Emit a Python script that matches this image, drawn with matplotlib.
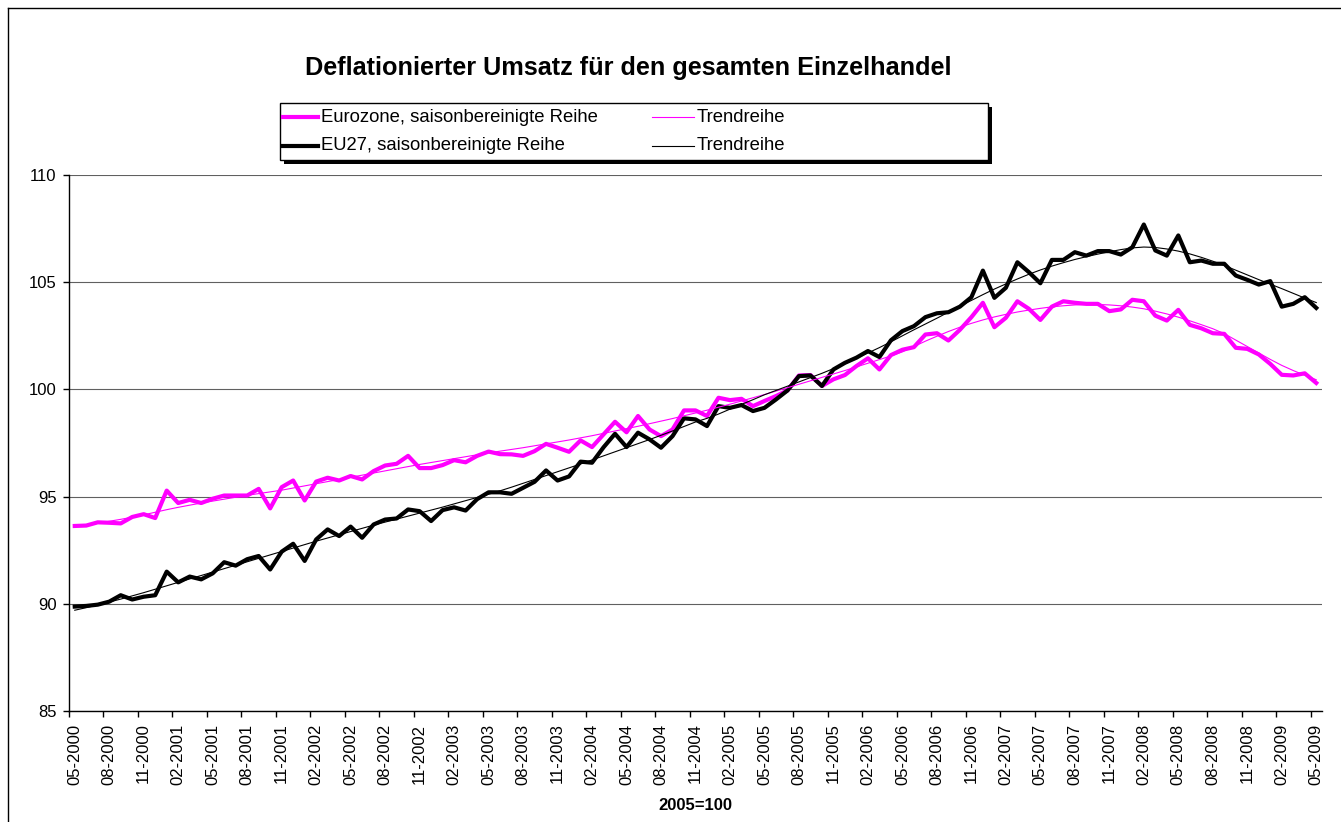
import numpy as np
import pandas as pd
import matplotlib
matplotlib.use('Agg')
import matplotlib.pyplot as plt
from matplotlib.lines import Line2D
from matplotlib.patches import Rectangle

plt.rcParams['font.family'] = ['Liberation Sans', 'DejaVu Sans']

# Months 05-2000 .. 05-2009
months = pd.period_range('2000-05', '2009-05', freq='M')
month_labels = [p.strftime('%m-%Y') for p in months]

# Eurozone, saisonbereinigte Reihe
ez_sa = [93.63, 93.65, 93.80, 93.78, 93.75, 94.05, 94.18, 94.00, 95.28, 94.70,
         94.85, 94.70, 94.90, 95.05, 95.05, 95.05, 95.36, 94.45, 95.44, 95.75,
         94.82, 95.70, 95.88, 95.75, 95.96, 95.80, 96.19, 96.45, 96.53, 96.90,
         96.33, 96.33, 96.47, 96.70, 96.60, 96.90, 97.10, 96.98, 96.97, 96.90,
         97.12, 97.46, 97.28, 97.09, 97.62, 97.31, 97.90, 98.49, 98.00, 98.76,
         98.13, 97.82, 98.13, 99.02, 99.02, 98.76, 99.61, 99.50, 99.56, 99.22,
         99.46, 99.69, 99.95, 100.65, 100.67, 100.16, 100.47, 100.67, 101.09, 101.45,
         100.93, 101.60, 101.85, 101.97, 102.56, 102.62, 102.28, 102.78, 103.37, 104.04,
         102.90, 103.34, 104.11, 103.76, 103.24, 103.86, 104.11, 104.04, 103.99, 103.99,
         103.65, 103.73, 104.18, 104.11, 103.44, 103.21, 103.71, 103.01, 102.85, 102.62,
         102.59, 101.94, 101.89, 101.63, 101.19, 100.68, 100.65, 100.75, 100.30]

# Eurozone, Trendreihe
ez_trend = [93.60, 93.68, 93.76, 93.85, 93.94, 94.04, 94.15, 94.27, 94.39, 94.50,
            94.60, 94.70, 94.79, 94.88, 94.97, 95.06, 95.14, 95.22, 95.30, 95.40,
            95.50, 95.60, 95.70, 95.80, 95.90, 96.00, 96.10, 96.20, 96.30, 96.40,
            96.50, 96.59, 96.68, 96.77, 96.86, 96.95, 97.04, 97.12, 97.20, 97.28,
            97.37, 97.46, 97.55, 97.64, 97.74, 97.84, 97.95, 98.06, 98.17, 98.28,
            98.40, 98.52, 98.64, 98.77, 98.90, 99.03, 99.17, 99.31, 99.46, 99.61,
            99.76, 99.92, 100.08, 100.24, 100.40, 100.56, 100.72, 100.88, 101.05, 101.22,
            101.39, 101.56, 101.75, 102.00, 102.25, 102.48, 102.70, 102.90, 103.08, 103.24,
            103.38, 103.50, 103.61, 103.70, 103.78, 103.85, 103.90, 103.94, 103.96, 103.96,
            103.94, 103.90, 103.84, 103.76, 103.65, 103.52, 103.37, 103.20, 103.02, 102.83,
            102.60, 102.30, 102.00, 101.70, 101.40, 101.12, 100.88, 100.66, 100.45]

# EU27, saisonbereinigte Reihe
eu_sa = [89.87, 89.90, 89.96, 90.10, 90.40, 90.20, 90.33, 90.40, 91.50, 91.00,
         91.27, 91.14, 91.42, 91.94, 91.78, 92.08, 92.23, 91.60, 92.43, 92.80,
         92.00, 93.00, 93.47, 93.16, 93.60, 93.08, 93.70, 93.93, 93.98, 94.40,
         94.32, 93.86, 94.37, 94.50, 94.35, 94.88, 95.20, 95.20, 95.13, 95.41,
         95.69, 96.22, 95.75, 95.94, 96.63, 96.58, 97.30, 97.93, 97.31, 97.98,
         97.67, 97.28, 97.82, 98.65, 98.60, 98.29, 99.22, 99.14, 99.27, 98.99,
         99.14, 99.53, 99.95, 100.62, 100.65, 100.16, 100.93, 101.24, 101.48, 101.79,
         101.51, 102.29, 102.72, 102.95, 103.37, 103.55, 103.60, 103.86, 104.30, 105.54,
         104.27, 104.74, 105.93, 105.47, 104.95, 106.04, 106.04, 106.40, 106.24, 106.45,
         106.45, 106.29, 106.63, 107.69, 106.48, 106.24, 107.18, 105.93, 106.01, 105.86,
         105.86, 105.31, 105.11, 104.89, 105.05, 103.86, 103.99, 104.30, 103.80]

# EU27, Trendreihe
eu_trend = [89.70, 89.82, 89.95, 90.08, 90.22, 90.37, 90.52, 90.68, 90.84, 91.00,
            91.16, 91.32, 91.48, 91.64, 91.80, 91.96, 92.12, 92.28, 92.44, 92.60,
            92.76, 92.92, 93.07, 93.22, 93.37, 93.52, 93.67, 93.81, 93.95, 94.09,
            94.23, 94.37, 94.51, 94.66, 94.81, 94.96, 95.11, 95.27, 95.44, 95.62,
            95.80, 95.98, 96.16, 96.34, 96.52, 96.71, 96.90, 97.09, 97.28, 97.47,
            97.66, 97.86, 98.06, 98.27, 98.48, 98.65, 98.85, 99.08, 99.30, 99.52,
            99.75, 99.95, 100.15, 100.35, 100.55, 100.75, 100.97, 101.20, 101.45, 101.70,
            101.95, 102.22, 102.50, 102.78, 103.05, 103.32, 103.60, 103.88, 104.15, 104.42,
            104.68, 104.92, 105.15, 105.37, 105.57, 105.75, 105.91, 106.06, 106.19, 106.31,
            106.42, 106.52, 106.60, 106.64, 106.62, 106.55, 106.45, 106.32, 106.16, 105.98,
            105.78, 105.56, 105.34, 105.12, 104.91, 104.70, 104.48, 104.26, 104.05]

W, H = 1341, 822
MAG = '#FF00FF'

fig = plt.figure(figsize=(W / 100, H / 100), dpi=100)
fig.patch.set_facecolor('white')

# plot area in pixels: x 69..1322, y 175..711
ax = fig.add_axes([69 / W, 1 - 711 / H, (1322 - 69) / W, (711 - 175) / H])

x = np.arange(len(months))
ax.plot(x, ez_sa, color=MAG, lw=3.0, solid_joinstyle='round', zorder=3)
ax.plot(x, ez_trend, color=MAG, lw=0.8, zorder=4)
ax.plot(x, eu_sa, color='black', lw=3.0, solid_joinstyle='round', zorder=3)
ax.plot(x, eu_trend, color='black', lw=0.8, zorder=4)

ax.set_xlim(-0.5, len(months) - 0.5)
ax.set_ylim(85, 110)
ax.set_yticks([85, 90, 95, 100, 105, 110])
ax.yaxis.grid(True, color='#606060', lw=0.8)
ax.set_axisbelow(True)

for s in ['top', 'right']:
    ax.spines[s].set_visible(False)
ax.spines['left'].set_linewidth(1.0)
ax.spines['bottom'].set_linewidth(1.0)

ax.tick_params(axis='y', direction='out', length=4, width=1, labelsize=12, pad=5)

# labels centred on categories, tick marks on category boundaries
lab_idx = x[::3]
ax.set_xticks(lab_idx)
ax.set_xticklabels([month_labels[i] for i in lab_idx], rotation=90)
ax.tick_params(axis='x', which='major', length=0, labelsize=12, pad=9)
ax.set_xticks(lab_idx - 0.5, minor=True)
ax.tick_params(axis='x', which='minor', direction='out', length=4, width=1)

# title and axis note
fig.text(628 / W, 1 - 68 / H, 'Deflationierter Umsatz für den gesamten Einzelhandel',
         ha='center', va='center', fontsize=18.2, fontweight='bold')
fig.text(695 / W, 1 - 805 / H, '2005=100', ha='center', va='center',
         fontsize=12, fontweight='bold')

# legend box with shadow
lx0, ly0, lx1, ly1 = 280, 103, 988, 160
fig.add_artist(Rectangle(((lx0 + 4) / W, 1 - (ly1 + 4) / H), (lx1 - lx0) / W, (ly1 - ly0) / H,
                         transform=fig.transFigure, facecolor='black', edgecolor='none', zorder=5))
fig.add_artist(Rectangle((lx0 / W, 1 - ly1 / H), (lx1 - lx0) / W, (ly1 - ly0) / H,
                         transform=fig.transFigure, facecolor='white', edgecolor='black',
                         lw=1, zorder=6))

entries = [
    (117, 283, 318, 321, MAG, 3.0, 'Eurozone, saisonbereinigte Reihe'),
    (117, 652, 694, 697, MAG, 0.8, 'Trendreihe'),
    (146, 283, 318, 321, 'black', 3.0, 'EU27, saisonbereinigte Reihe'),
    (146, 652, 694, 697, 'black', 0.8, 'Trendreihe'),
]
for yy, xa, xb, xt, col, lw, txt in entries:
    fig.add_artist(Line2D([xa / W, xb / W], [1 - yy / H, 1 - yy / H], color=col, lw=lw,
                          transform=fig.transFigure, zorder=7))
    fig.text(xt / W, 1 - yy / H, txt, ha='left', va='center', fontsize=13.3, zorder=7)

# chart area border (top and left visible)
fig.add_artist(Line2D([8 / W, 1], [1 - 8 / H, 1 - 8 / H], color='black', lw=1,
                      transform=fig.transFigure))
fig.add_artist(Line2D([8 / W, 8 / W], [0, 1 - 8 / H], color='black', lw=1,
                      transform=fig.transFigure))

fig.savefig('out.png', dpi=100, facecolor='white')
